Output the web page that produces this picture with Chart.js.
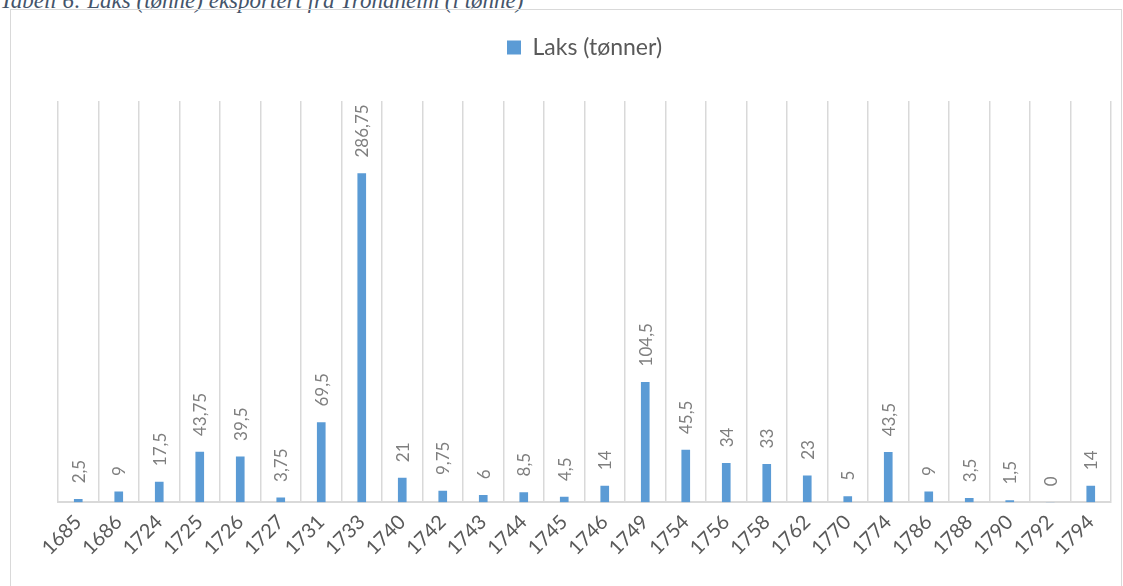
<!DOCTYPE html>
<html>
<head>
<meta charset="utf-8">
<script src="https://cdn.jsdelivr.net/npm/chart.js@4"></script>
<style>
  body { margin: 0; background: #fff; overflow: hidden; }
  #wrap { position: relative; width: 1123px; height: 586px; }
  #title {
    position: absolute; left: 0; top: -12px; line-height: 23px;
    font: italic 23px "Liberation Serif", serif; color: #44546A; white-space: nowrap;
  }
  #frame {
    position: absolute; left: 10px; top: 9px; width: 1110px; height: 600px;
    border: 1px solid #d9d9d9;
  }
  canvas { position: absolute; left: 0; top: 0; }
</style>
</head>
<body>
<div id="wrap">
  <div id="title">Tabell 6: Laks (tønne) eksportert fra Trondheim (i tønne)</div>
  <div id="frame"></div>
  <canvas id="chart" width="1123" height="586"></canvas>
</div>
<script>
const years = ['1685', '1686', '1724', '1725', '1726', '1727', '1731', '1733', '1740', '1742', '1743', '1744', '1745',
  '1746', '1749', '1754', '1756', '1758', '1762', '1770', '1774', '1786', '1788', '1790', '1792', '1794'];
const laks = [2.5, 9, 17.5, 43.75, 39.5, 3.75, 69.5, 286.75, 21, 9.75, 6, 8.5, 4.5,
  14, 104.5, 45.5, 34, 33, 23, 5, 43.5, 9, 3.5, 1.5, 0, 14];

// push the plot area down below the legend
const legendGap = {
  id: 'legendGap',
  beforeInit(chart) {
    const fit = chart.legend.fit;
    chart.legend.fit = function () {
      fit.bind(chart.legend)();
      this.height += 32;
    };
  }
};

// vertical value labels above each bar
const barLabels = {
  id: 'barLabels',
  afterDatasetsDraw(chart) {
    const ctx = chart.ctx;
    const meta = chart.getDatasetMeta(0);
    ctx.save();
    ctx.font = '17px Lato';
    ctx.fillStyle = '#7f7f7f';
    ctx.textAlign = 'left';
    ctx.textBaseline = 'middle';
    meta.data.forEach((bar, i) => {
      const txt = String(laks[i]).replace('.', ',');
      ctx.save();
      ctx.translate(bar.x + 1, bar.y - 16);
      ctx.rotate(-Math.PI / 2);
      ctx.fillText(txt, 0, 0);
      ctx.restore();
    });
    ctx.restore();
  }
};

new Chart(document.getElementById('chart'), {
  type: 'bar',
  data: {
    labels: years,
    datasets: [{
      label: 'Laks (tønner)',
      data: laks,
      backgroundColor: '#5B9BD5',
      barThickness: 8
    }]
  },
  options: {
    responsive: false,
    animation: false,
    layout: { padding: { left: 58, right: 12, top: 26, bottom: 18 } },
    plugins: {
      legend: {
        position: 'top',
        labels: {
          boxWidth: 14, boxHeight: 14, padding: 10,
          color: '#595959',
          font: { family: 'Lato', size: 23 }
        }
      },
      tooltip: { enabled: false }
    },
    scales: {
      x: {
        offset: true,
        grid: { offset: true, color: '#d9d9d9', lineWidth: 1.5, drawTicks: false },
        border: { color: '#d9d9d9', width: 2 },
        ticks: {
          color: '#595959', font: { family: 'Lato', size: 20 },
          minRotation: 45, maxRotation: 45, padding: 8
        }
      },
      y: { display: false, min: 0, max: 350 }
    }
  },
  plugins: [legendGap, barLabels]
});
</script>
</body>
</html>
